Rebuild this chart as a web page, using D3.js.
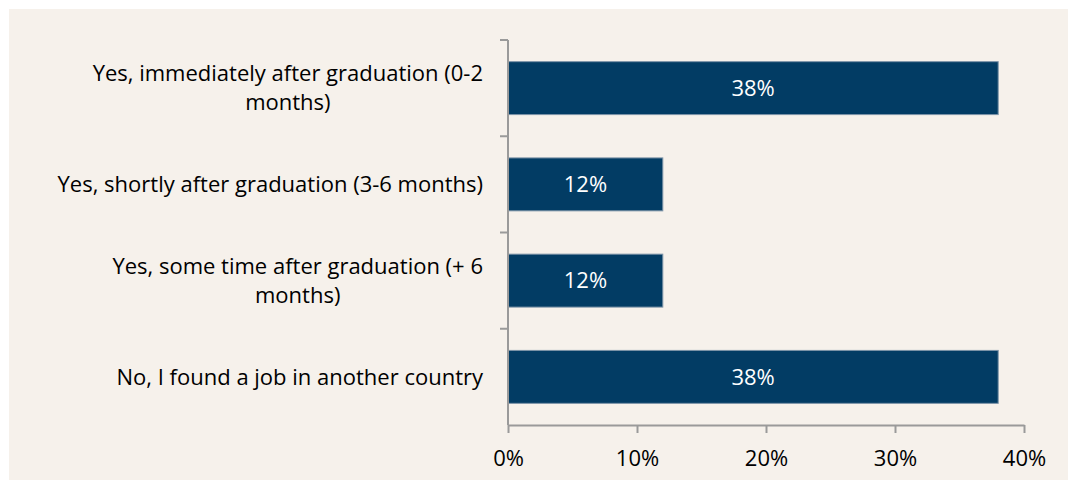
<!DOCTYPE html>
<html>
<head>
<meta charset="utf-8">
<script src="https://cdn.jsdelivr.net/npm/d3@7"></script>
<style>
  body { margin: 0; background: #fff; }
  svg { display: block; }
  .axis path, .axis line { stroke: #9a9a9a; stroke-width: 2px; }
  .axis text { font-family: "Open Sans", sans-serif; font-size: 22px; fill: #000; }
  .cat { font-family: "Open Sans", sans-serif; font-size: 22px; fill: #000; }
  .val { font-family: "Open Sans", sans-serif; font-size: 22px; fill: #fff; }
</style>
</head>
<body>
<div id="chart"></div>
<script>
var categories = [
  "Yes, immediately after graduation (0-2 months)",
  "Yes, shortly after graduation (3-6 months)",
  "Yes, some time after graduation (+ 6 months)",
  "No, I found a job in another country"
];
var values = [0.38, 0.12, 0.12, 0.38];
var tickValues = [0, 0.1, 0.2, 0.3, 0.4];

var width = 1068, height = 480;
var plotLeft = 508, plotRight = 1024, plotTop = 40, plotBottom = 425;

var svg = d3.select("#chart").append("svg")
  .attr("width", width)
  .attr("height", height);

// panel background
svg.append("rect")
  .attr("x", 9).attr("y", 9)
  .attr("width", width - 9).attr("height", height - 9)
  .attr("fill", "#f6f1eb");

var x = d3.scaleLinear().domain([0, 0.4]).range([plotLeft, plotRight]);
var y = d3.scaleBand().domain(categories).range([plotTop, plotBottom]).paddingInner(0.45).paddingOuter(0.225);

// bars
svg.selectAll("rect.bar")
  .data(values)
  .enter().append("rect")
  .attr("class", "bar")
  .attr("x", x(0))
  .attr("y", function(d, i) { return y(categories[i]); })
  .attr("width", function(d) { return x(d) - x(0); })
  .attr("height", y.bandwidth())
  .attr("fill", "#023c64")
  .attr("stroke", "#7d94a8")
  .attr("stroke-width", 1);

// value labels
svg.selectAll("text.val")
  .data(values)
  .enter().append("text")
  .attr("class", "val")
  .attr("x", function(d) { return (x(0) + x(d)) / 2; })
  .attr("y", function(d, i) { return y(categories[i]) + y.bandwidth() / 2; })
  .attr("dy", "0.35em")
  .attr("text-anchor", "middle")
  .text(function(d) { return Math.round(d * 100) + "%"; });

// x axis
var xAxis = d3.axisBottom(x)
  .tickValues(tickValues)
  .tickFormat(d3.format(".0%"))
  .tickSize(8)
  .tickPadding(17)
  .tickSizeOuter(0);

svg.append("g")
  .attr("class", "axis")
  .attr("transform", "translate(0," + plotBottom + ")")
  .call(xAxis);

// y axis line + ticks between categories
var yAx = svg.append("g").attr("class", "axis");
yAx.append("line")
  .attr("x1", plotLeft).attr("x2", plotLeft)
  .attr("y1", plotTop).attr("y2", plotBottom);
d3.range(categories.length).forEach(function(i) {
  var ty = plotTop + i * (plotBottom - plotTop) / categories.length;
  yAx.append("line")
    .attr("x1", plotLeft - 8).attr("x2", plotLeft)
    .attr("y1", ty).attr("y2", ty);
});

// category labels, wrapped and centred as a block ending at the axis
var labelRight = 483, maxW = 440, lineH = 29;
categories.forEach(function(c) {
  var cy = y(c) + y.bandwidth() / 2;
  var t = svg.append("text").attr("class", "cat").attr("text-anchor", "middle");
  var words = c.split(" "), lines = [], line = [];
  var probe = svg.append("text").attr("class", "cat");
  words.forEach(function(w) {
    line.push(w);
    probe.text(line.join(" "));
    if (probe.node().getComputedTextLength() > maxW && line.length > 1) {
      line.pop();
      lines.push(line.join(" "));
      line = [w];
    }
  });
  lines.push(line.join(" "));
  var widths = lines.map(function(l) { probe.text(l); return probe.node().getComputedTextLength(); });
  probe.remove();
  var blockW = d3.max(widths);
  var cx = labelRight - blockW / 2;
  lines.forEach(function(l, k) {
    t.append("tspan")
      .attr("x", cx)
      .attr("y", cy + (k - (lines.length - 1) / 2) * lineH)
      .attr("dy", "0.35em")
      .text(l);
  });
});
</script>
</body>
</html>
